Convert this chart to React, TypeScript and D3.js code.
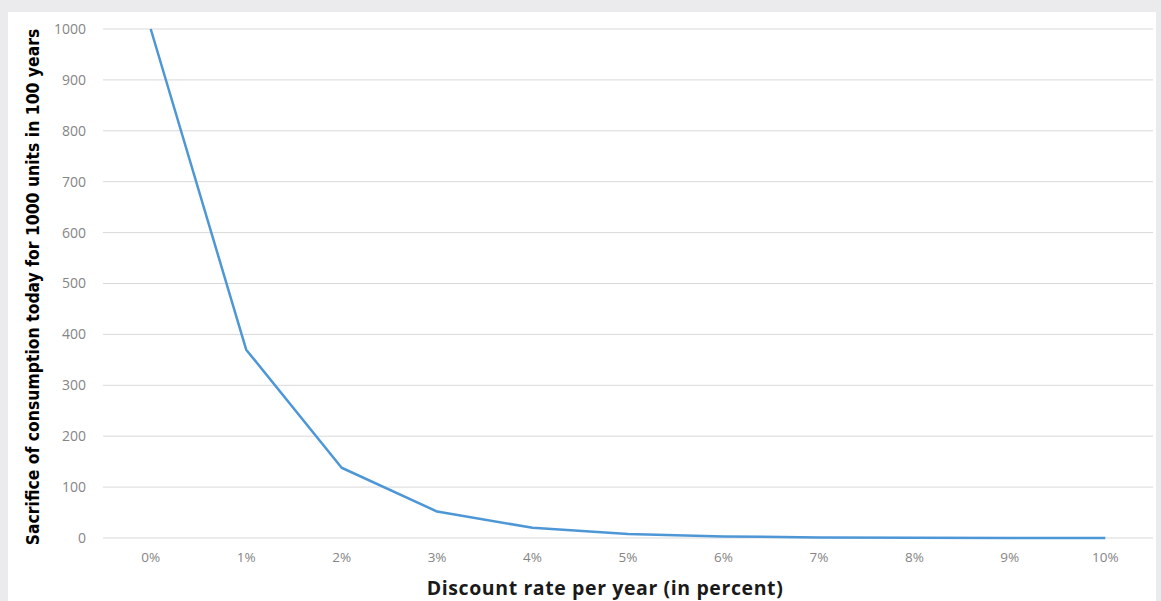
import React from "react";
import * as d3 from "d3";

const categories = ["0%", "1%", "2%", "3%", "4%", "5%", "6%", "7%", "8%", "9%", "10%"];
const values = [1000, 370, 138, 52, 20, 8, 3, 1.2, 0.5, 0.2, 0.1];
const yTicks = [0, 100, 200, 300, 400, 500, 600, 700, 800, 900, 1000];
const xTitle = "Discount rate per year (in percent)";
const yTitle = "Sacrifice of consumption today for 1000 units in 100 years";

const W = 1161, H = 601;
const left = 103, right = 1153, top = 29, bottom = 538;

export default function App() {
  const x = d3.scaleBand<string>().domain(categories).range([left, right]);
  const y = d3.scaleLinear().domain([0, 1000]).range([bottom, top]);
  const line = d3.line<number>()
    .x((_, i) => (x(categories[i]) as number) + x.bandwidth() / 2)
    .y((d) => y(d));
  return (
    <svg width={W} height={H} style={{ position: "absolute", left: 0, top: 0 }}>
      <rect x={0} y={0} width={W} height={H} fill="#EBEBED" />
      <rect x={8} y={12} width={1148} height={H - 12} fill="#FFFFFF" />
      {yTicks.map((t) => (
        <g key={t}>
          <line x1={left} x2={right} y1={y(t)} y2={y(t)} stroke="#D9D9D9" strokeWidth={1} />
          <text x={86} y={y(t)} dy="0.35em" textAnchor="end" fontFamily="Open Sans" fontSize={14} fill="#858585">{t}</text>
        </g>
      ))}
      {categories.map((c) => (
        <text key={c} x={(x(c) as number) + x.bandwidth() / 2} y={562} textAnchor="middle" fontFamily="Open Sans" fontSize={13.5} fill="#858585">{c}</text>
      ))}
      <path d={line(values) || ""} fill="none" stroke="#4E97D6" strokeWidth={2.5} strokeLinejoin="round" />
      <text x={605} y={595} textAnchor="middle" fontFamily="Open Sans" fontWeight="bold" fontSize={19.5} letterSpacing={0.6} fill="#1a1a1a">{xTitle}</text>
      <text transform={`translate(39, 287) rotate(-90)`} textAnchor="middle" fontFamily="DejaVu Sans Condensed, DejaVu Sans" fontStretch="condensed" fontWeight="bold" fontSize={17.4} fill="#000">{yTitle}</text>
    </svg>
  );
}
